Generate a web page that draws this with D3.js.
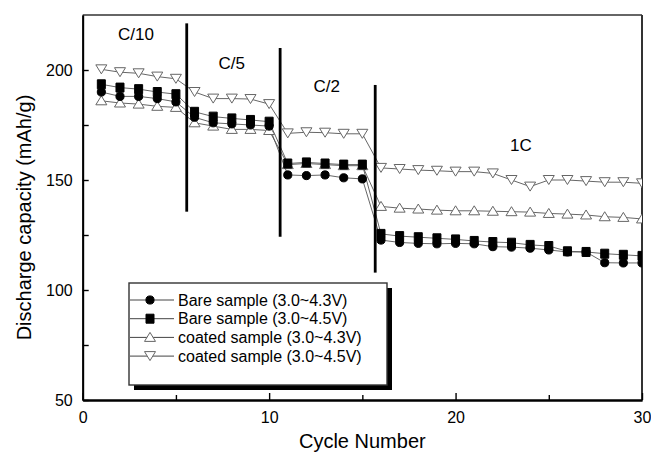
<!DOCTYPE html>
<html>
<head>
<meta charset="utf-8">
<script src="https://cdn.jsdelivr.net/npm/d3@7/dist/d3.min.js"></script>
<style>
  body { margin: 0; background: #fff; }
  svg { display: block; font-family: "Liberation Sans", Arial, sans-serif; }
</style>
</head>
<body>
<svg id="chart" width="651" height="453"></svg>
<script>

// cycle numbers and the four capacity series (mAh/g)
var cycles = [1, 2, 3, 4, 5, 6, 7, 8, 9, 10, 11, 12, 13, 14, 15,
              16, 17, 18, 19, 20, 21, 22, 23, 24, 25, 26, 27, 28, 29, 30];

var bare43 = [190, 188, 188, 187, 185.5, 178.5, 176, 175.5, 175, 174.5,
              152.3, 152, 152.3, 151, 150.5, 122.7, 121.6, 121.2, 121, 121.2,
              121, 119.7, 119.5, 119, 118.2, 117.3, 117.3, 112.4, 112.3, 112.3];

var bare45 = [193.5, 192, 191.3, 190, 189, 181, 178.8, 178, 177.3, 176.5,
              157.5, 158, 157.5, 157, 157, 125.5, 124.5, 124, 123.5, 123,
              122.3, 121.8, 121.5, 120.5, 120, 117.6, 117.3, 116.5, 116, 115.5];

var coated43 = [186, 185, 184.5, 183.5, 183, 176, 174.5, 173, 173, 172.5,
                157, 157.5, 157, 156.5, 156.5, 138, 137.2, 136.8, 136.3, 136,
                136, 135.8, 135.6, 135.4, 134.8, 134.5, 134.1, 133.3, 133, 132.3];

var coated45 = [200.3, 199, 198.5, 197, 196, 190, 187, 187, 186.8, 184.5,
                171.2, 171.7, 171.5, 171, 171, 155.5, 155, 154.5, 154.2, 153.8,
                153.8, 153, 150, 147, 150, 150, 149.5, 149, 149, 148.5];

var seriesNames = ['Bare sample (3.0~4.3V)', 'Bare sample (3.0~4.5V)',
                   'coated sample (3.0~4.3V)', 'coated sample (3.0~4.5V)'];

// C-rate labels and the cycle where each rate step happens
var rateLabels = ['C/10', 'C/5', 'C/2', '1C'];
var rateBreaks = [5.58, 10.59, 15.69];
var breakTop = [221.2, 210, 193.2];
var breakBottom = [135.6, 124.2, 107.9];

var xTicks = [0, 10, 20, 30];
var yTicks = [50, 100, 150, 200];

var svg = d3.select('#chart'),
    plotLeft = 82.7, plotRight = 642, plotTop = 15, plotBottom = 400;

var x = d3.scaleLinear().domain([0, 30]).range([plotLeft, plotRight]),
    y = d3.scaleLinear().domain([50, 225]).range([plotBottom, plotTop]);

svg.append('defs').append('clipPath').attr('id', 'plot')
  .append('rect').attr('x', plotLeft).attr('y', plotTop)
  .attr('width', plotRight - plotLeft).attr('height', plotBottom - plotTop);

// frame top / right
svg.append('line').attr('x1', plotLeft).attr('x2', plotRight).attr('y1', plotTop).attr('y2', plotTop)
  .attr('stroke', '#333').attr('stroke-width', 1.6);
svg.append('line').attr('x1', plotRight).attr('x2', plotRight).attr('y1', plotTop).attr('y2', plotBottom)
  .attr('stroke', '#333').attr('stroke-width', 2);

// axes with inward ticks
svg.append('g').attr('transform', 'translate(0,' + plotBottom + ')')
  .call(d3.axisBottom(x).tickValues(xTicks).tickSizeInner(-7).tickSizeOuter(0).tickPadding(12));
svg.append('g').attr('transform', 'translate(0,' + plotBottom + ')')
  .call(d3.axisBottom(x).tickValues([5, 15, 25]).tickSizeInner(-5).tickSizeOuter(0).tickFormat(''));
svg.append('g').attr('transform', 'translate(' + plotLeft + ',0)')
  .call(d3.axisLeft(y).tickValues(yTicks).tickSizeInner(-6).tickSizeOuter(0).tickPadding(10));
svg.append('g').attr('transform', 'translate(' + plotLeft + ',0)')
  .call(d3.axisLeft(y).tickValues([75, 125, 175]).tickSizeInner(-6).tickSizeOuter(0).tickFormat(''));

svg.selectAll('.domain').attr('stroke', '#000').attr('stroke-width', 1.8);
svg.selectAll('.tick line').attr('stroke', '#000').attr('stroke-width', 1.4);
svg.selectAll('.tick text').attr('fill', '#000').style('font-size', '16px')
  .style('font-family', '"Liberation Sans", Arial, sans-serif');

svg.append('text').attr('x', (plotLeft + plotRight) / 2).attr('y', 448)
  .attr('text-anchor', 'middle').style('font-size', '20px').text('Cycle Number');
svg.append('text').attr('transform', 'translate(31,' + ((plotTop + plotBottom) / 2 + 10) + ') rotate(-90)')
  .attr('text-anchor', 'middle').style('font-size', '20px').text('Discharge capacity (mAh/g)');

// series drawing
var series = [
  { name: seriesNames[3], values: coated45, shape: 'down' },
  { name: seriesNames[2], values: coated43, shape: 'up' },
  { name: seriesNames[1], values: bare45, shape: 'square' },
  { name: seriesNames[0], values: bare43, shape: 'circle' }
];

function symbolPath(shape) {
  if (shape === 'circle') return d3.symbol(d3.symbolCircle, 52)();
  if (shape === 'square') return 'M-4,-4.5H4V4.5H-4Z';
  if (shape === 'up') return 'M0,-5L5.5,4L-5.5,4Z';
  return 'M0,4.5L5.5,-4.5L-5.5,-4.5Z';
}
function symbolFill(shape) { return (shape === 'up' || shape === 'down') ? '#fff' : '#000'; }
function symbolStroke(shape) { return (shape === 'up' || shape === 'down') ? '#666' : '#000'; }

var plot = svg.append('g').attr('clip-path', 'url(#plot)');

var line = d3.line()
  .x(function(d, i) { return x(cycles[i]); })
  .y(function(d) { return y(d); });

series.forEach(function(s) {
  plot.append('path').attr('d', line(s.values))
    .attr('fill', 'none').attr('stroke', '#555').attr('stroke-width', 0.9);
});
series.forEach(function(s) {
  plot.selectAll(null).data(s.values).enter().append('path')
    .attr('transform', function(d, i) { return 'translate(' + x(cycles[i]) + ',' + y(d) + ')'; })
    .attr('d', symbolPath(s.shape))
    .attr('fill', symbolFill(s.shape))
    .attr('stroke', symbolStroke(s.shape)).attr('stroke-width', 1);
});

// rate change markers
svg.selectAll('.brk').data(rateBreaks).enter().append('line')
  .attr('x1', function(d) { return x(d); }).attr('x2', function(d) { return x(d); })
  .attr('y1', function(d, i) { return y(breakTop[i]); })
  .attr('y2', function(d, i) { return y(breakBottom[i]); })
  .attr('stroke', '#000').attr('stroke-width', 2.8);

var labelPos = [[2.86, 216.4], [7.99, 203.2], [13.09, 192.7], [23.5, 165.9]];
svg.selectAll('.rate').data(rateLabels).enter().append('text')
  .attr('x', function(d, i) { return x(labelPos[i][0]); })
  .attr('y', function(d, i) { return y(labelPos[i][1]); })
  .attr('dy', '0.35em').attr('text-anchor', 'middle')
  .style('font-size', '17px').text(function(d) { return d; });

// legend with drop shadow
var lg = svg.append('g');
lg.append('rect').attr('x', 134).attr('y', 288).attr('width', 258).attr('height', 102).attr('fill', '#000');
lg.append('rect').attr('x', 129).attr('y', 283).attr('width', 258).attr('height', 102)
  .attr('fill', '#fff').attr('stroke', '#333').attr('stroke-width', 1.4);

var legendOrder = [series[3], series[2], series[1], series[0]];
var rows = lg.selectAll('.row').data(legendOrder).enter().append('g')
  .attr('transform', function(d, i) { return 'translate(0,' + (300 + i * 18.7) + ')'; });
rows.append('line').attr('x1', 130).attr('x2', 174).attr('stroke', '#444').attr('stroke-width', 1);
rows.append('path').attr('transform', 'translate(150,0)')
  .attr('d', function(d) { return symbolPath(d.shape); })
  .attr('fill', function(d) { return symbolFill(d.shape); })
  .attr('stroke', function(d) { return symbolStroke(d.shape); });
rows.append('text').attr('x', 178).attr('dy', '0.36em').style('font-size', '16px')
  .text(function(d) { return d.name; });

</script>
</body>
</html>
